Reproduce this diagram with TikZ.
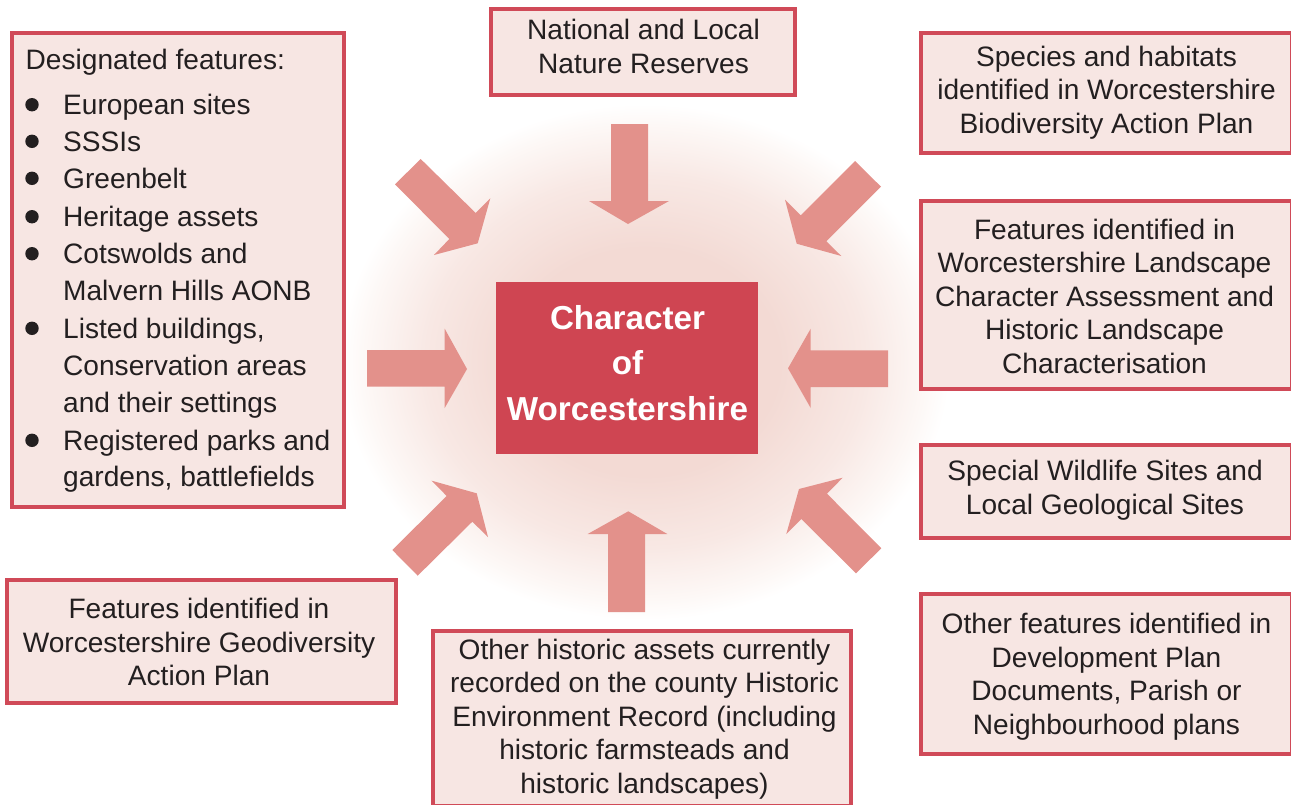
\documentclass[tikz,border=0pt]{standalone}
\usepackage{fontspec}
\setmainfont{Liberation Sans}
\definecolor{boxline}{HTML}{D04A58}
\definecolor{boxfill}{HTML}{F7E6E3}
\definecolor{corecol}{HTML}{CF4552}
\definecolor{arrowcol}{HTML}{E3918B}
\definecolor{inkcol}{HTML}{231F20}
\definecolor{glowcol}{HTML}{F3DAD4}
\definecolor{glowmid}{HTML}{F8E8E4}
\definecolor{glowrim}{HTML}{FDF8F6}
\pgfdeclareradialshading{glowshade}{\pgfpoint{0bp}{0bp}}{color(0bp)=(glowcol); color(11bp)=(glowcol); color(18bp)=(glowmid); color(23bp)=(glowrim); color(25bp)=(white); color(50bp)=(white)}
\tikzset{
  x=1pt,y=-1pt,
  boxst/.style={draw=boxline,fill=boxfill,line width=4pt,inner sep=0pt,outer sep=0pt},
  txt/.style={text=inkcol,font=\fontsize{28.1}{33.5}\selectfont,align=center,inner sep=0pt},
  itemtxt/.style={text=inkcol,font=\fontsize{28.1}{33.5}\selectfont,anchor=base west,inner sep=0pt},
  dotst/.style={circle,fill=inkcol,minimum size=13.4pt,inner sep=0pt},
  blockarrow/.style={fill=arrowcol,draw=none},
}
\begin{document}
\begin{tikzpicture}
\useasboundingbox (0,0) rectangle (1291,804);
\path[shading=glowshade] (645,362) ellipse [x radius=305,y radius=258];
% boxes
\node[boxst,minimum width=332pt,minimum height=474pt] (left) at (178,270) {};
\node[boxst,minimum width=304pt,minimum height=86pt] (top) at (643,52) {};
\node[boxst,minimum width=370.2pt,minimum height=120pt] (species) at (1106.4,93) {};
\node[boxst,minimum width=370.2pt,minimum height=188pt] (features) at (1106.4,295) {};
\node[boxst,minimum width=370.2pt,minimum height=93pt] (special) at (1106.4,491.5) {};
\node[boxst,minimum width=370.2pt,minimum height=160pt] (other) at (1106.4,674) {};
\node[boxst,minimum width=389pt,minimum height=123pt] (geo) at (201.5,641.5) {};
\node[boxst,minimum width=418pt,minimum height=174.5pt] (hist) at (642,718.25) {};
\node[fill=corecol,minimum width=262pt,minimum height=172pt,inner sep=0pt] (core) at (627,368) {};
% arrows
\fill[blockarrow] (420.7,159)--(475.7,213)--(490.3,198.3)--(477.7,243.3)--(434,255)--(449.3,239)--(395,184.3)--cycle;
\fill[blockarrow] (611,124)--(648,124)--(648,201)--(669,201)--(628,224)--(589,201)--(611,201)--cycle;
\fill[blockarrow] (855,161)--(881,186.7)--(826.3,241.3)--(841.3,256)--(796.7,243.7)--(785,199.7)--(800.7,215.3)--cycle;
\fill[blockarrow] (367,350)--(444.7,350)--(444.7,328.7)--(467,369)--(444.7,408)--(444.7,386.7)--(367,386.7)--cycle;
\fill[blockarrow] (888,350.3)--(810.7,350.3)--(810.7,328.7)--(788,368.3)--(810.7,408)--(810.7,387)--(888,387)--cycle;
\fill[blockarrow] (392.3,550)--(417.7,575.7)--(472.3,521.7)--(488,537)--(476.7,493.3)--(431.7,480.7)--(446.7,496)--cycle;
\fill[blockarrow] (608,612)--(645,612)--(645,534)--(667.3,534)--(628.3,511.3)--(587.7,534)--(608,534)--cycle;
\fill[blockarrow] (881.3,548.3)--(856,573.3)--(801.3,519)--(786.3,534)--(799,489)--(842.7,477.7)--(827,493.7)--cycle;
% centre text
\node[text=white,font=\fontsize{33.2}{45.5}\selectfont\bfseries,align=center,inner sep=0pt] (coretxt) at (627.5,363) {Character\\of\\Worcestershire};
% box texts
\node[txt] (toptxt) at (643.5,46.7) {National and Local\\Nature Reserves};
\node[txt] (speciestxt) at (1106.5,92.5) {Species and habitats\\identified in Worcestershire\\Biodiversity Action Plan};
\node[txt] (featurestxt) at (1104.5,296) {Features identified in\\Worcestershire Landscape\\Character Assessment and\\Historic Landscape\\Characterisation};
\node[txt] (specialtxt) at (1105,490) {Special Wildlife Sites and\\Local Geological Sites};
\node[txt] (othertxt) at (1106.5,676.5) {Other features identified in\\Development Plan\\Documents, Parish or\\Neighbourhood plans};
\node[txt] (geotxt) at (199,642) {Features identified in\\Worcestershire Geodiversity\\Action Plan};
\node[txt] (histtxt) at (644.5,719) {Other historic assets currently\\recorded on the county Historic\\Environment Record (including\\historic farmsteads and\\historic landscapes)};
% list
\node[itemtxt] (l0) at (25.5,69.7) {Designated features:};
\node[itemtxt] (l1) at (63,114.4) {European sites};
\node[itemtxt] (l2) at (63,151.4) {SSSIs};
\node[itemtxt] (l3) at (63,188.4) {Greenbelt};
\node[itemtxt] (l4) at (63,226.5) {Heritage assets};
\node[itemtxt] (l5) at (63,263.5) {Cotswolds and};
\node[itemtxt] (l6) at (63,300.5) {Malvern Hills AONB};
\node[itemtxt] (l7) at (63,338) {Listed buildings,};
\node[itemtxt] (l8) at (63,375.4) {Conservation areas};
\node[itemtxt] (l9) at (63,412) {and their settings};
\node[itemtxt] (l10) at (63,450) {Registered parks and};
\node[itemtxt] (l11) at (63,486.7) {gardens, battlefields};
\foreach \n/\y in {d1/104.7,d2/141.3,d3/178.3,d4/216.7,d5/253.7,d6/328.3,d7/440.3}
  \node[dotst] (\n) at (32,\y) {};
\end{tikzpicture}
\end{document}
